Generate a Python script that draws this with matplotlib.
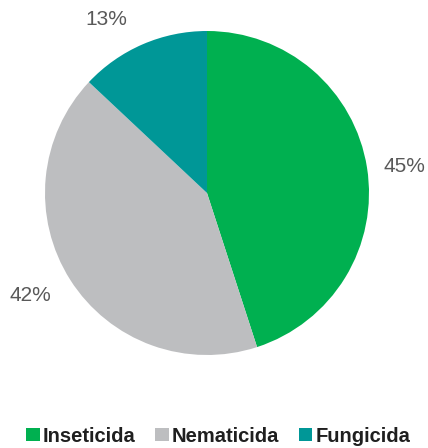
import matplotlib
matplotlib.use("Agg")
import matplotlib.pyplot as plt
import numpy as np

plt.rcParams['font.family'] = ['Liberation Sans', 'DejaVu Sans']

categories = ["Inseticida", "Nematicida", "Fungicida"]
shares = [45, 42, 13]
colors = ["#00B050", "#BDBEC0", "#009797"]

# label placement around the pie: (angle in degrees, radius as fraction of pie radius)
label_pos = [(7.5, 1.23), (-150, 1.26), (120, 1.24)]

W, H = 428, 448
cx, cy, r = 207, 193, 162

fig = plt.figure(figsize=(W / 100, H / 100), dpi=100)
ax = fig.add_axes([(cx - r) / W, (H - cy - r) / H, 2 * r / W, 2 * r / H])

wedges, _ = ax.pie(
    shares, colors=colors, startangle=90, counterclock=False,
    wedgeprops=dict(linewidth=0),
)
ax.set_xlim(-1, 1)
ax.set_ylim(-1, 1)

for val, (ang, dist) in zip(shares, label_pos):
    a = np.deg2rad(ang)
    ax.text(dist * np.cos(a), dist * np.sin(a), f"{val}%", ha="center", va="center",
            fontsize=15, color="#595959", clip_on=False)

fig.legend(wedges, categories, loc="center", bbox_to_anchor=(0.51, 1 - 436 / H),
           ncol=3, frameon=False, handlelength=0.65, handleheight=0.65,
           handletextpad=0.15, columnspacing=1.0, labelcolor="#1f1f1f",
           prop=dict(size=14.5, weight="bold"))

fig.savefig("out.png", dpi=100)
